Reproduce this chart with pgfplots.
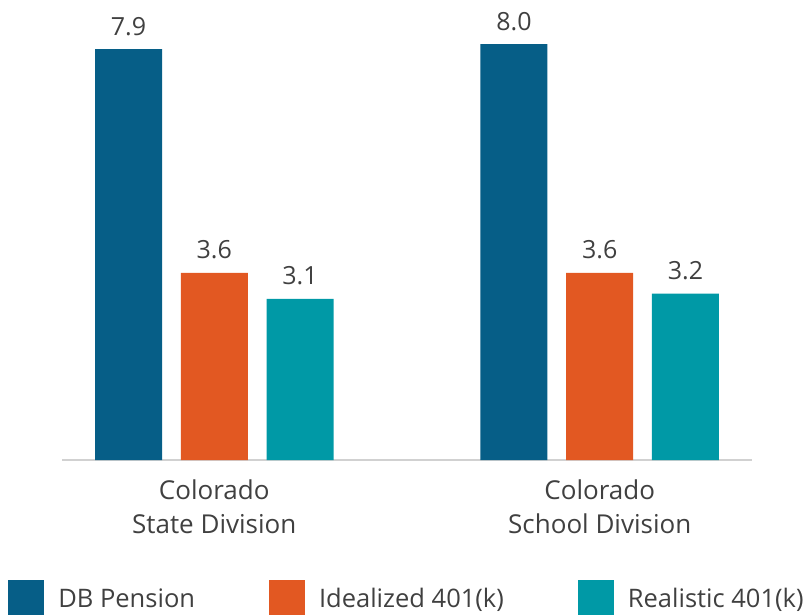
\documentclass[border=0pt]{standalone}
\usepackage{pgfplots}
\pgfplotsset{compat=1.18}
\usepackage{fontspec}
\setmainfont{Open Sans}
\definecolor{dbblue}{HTML}{065E87}
\definecolor{idorange}{HTML}{E25822}
\definecolor{reteal}{HTML}{0099A6}
\definecolor{txt}{HTML}{404040}
\begin{document}
\begin{tikzpicture}
\useasboundingbox (0pt,0pt) rectangle (809pt,-615pt);
\begin{axis}[
  at={(62pt,-460pt)}, anchor=south west,
  scale only axis, width=690pt, height=442pt,
  ybar=18.75pt, bar width=67pt,
  xmin=-0.395, xmax=1.395, ymin=0, ymax=8.5,
  axis y line=none, axis x line=bottom,
  x axis line style={-, draw=black!18, line width=1.5pt},
  xtick={0,1}, major tick length=0,
  xticklabels={Colorado\\State Division, Colorado\\School Division},
  xticklabel style={align=center, text=txt, font=\fontsize{26}{34}\selectfont, yshift=-16pt},
  nodes near coords,
  nodes near coords style={text=txt, font=\fontsize{25}{29}\selectfont, yshift=10pt,
    /pgf/number format/.cd, fixed, fixed zerofill, precision=1, assume math mode=true},
  every axis plot/.append style={draw=none},
  legend style={at={(0.5,-0.266)}, anchor=north, draw=none, fill=none,
    legend columns=-1, font=\fontsize{25.5}{30}\selectfont, text=txt,
    /tikz/every odd column/.append style={column sep=12pt},
    /tikz/every even column/.append style={column sep=72pt}},
  legend image code/.code={\fill[#1] (0pt,-17pt) rectangle (36pt,19pt);},
  clip=false,
]
\addplot[fill=dbblue] coordinates {(0,7.9) (1,8.0)};
\addplot[fill=idorange] coordinates {(0,3.6) (1,3.6)};
\addplot[fill=reteal] coordinates {(0,3.1) (1,3.2)};
\legend{DB Pension, Idealized 401(k), Realistic 401(k)}
\end{axis}
\end{tikzpicture}
\end{document}
